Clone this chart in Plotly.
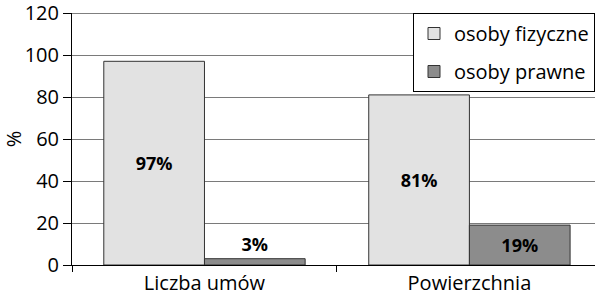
import plotly.graph_objects as go

categories = ["Liczba umów", "Powierzchnia"]
series_names = ["osoby fizyczne", "osoby prawne"]
fizyczne = [97, 81]
prawne = [3, 19]
y_ticks = [0, 20, 40, 60, 80, 100, 120]

FONT = "Open Sans"

fig = go.Figure()
fig.add_trace(go.Bar(
    x=categories, y=fizyczne, name=series_names[0],
    marker=dict(color="#e2e2e2", line=dict(color="#333333", width=1)),
    text=[f"{v}%" for v in fizyczne], textposition="inside",
    insidetextanchor="middle",
    textfont=dict(family=FONT, size=18, color="black", weight="bold"),
    legendgroup="a",
))
fig.add_trace(go.Bar(
    x=categories, y=prawne, name=series_names[1],
    marker=dict(color="#8c8c8c", line=dict(color="#333333", width=1)),
    text=[f"{v}%" for v in prawne], textposition=["outside", "inside"],
    insidetextanchor="middle", cliponaxis=False,
    textfont=dict(family=FONT, size=18, color="black", weight="bold"),
    legendgroup="b",
))

fig.update_layout(
    width=595, height=297,
    margin=dict(l=72, r=0, t=13, b=32),
    paper_bgcolor="white", plot_bgcolor="white",
    barmode="group", bargap=0.24, bargroupgap=0,
    font=dict(family=FONT, size=20, color="black"),
    showlegend=True,
    legend=dict(x=1, xanchor="right", y=1, yanchor="top",
                bgcolor="white", bordercolor="black", borderwidth=1,
                font=dict(family=FONT, size=20), tracegroupgap=9,
                itemwidth=30),
)
fig.update_xaxes(
    range=[-0.5, 1.474], showline=True, linecolor="black", linewidth=1,
    ticks="outside", tickson="boundaries", ticklen=6, tickcolor="black",
    showgrid=False, tickfont=dict(size=20),
)
fig.update_yaxes(
    range=[0, 120], tickvals=y_ticks, showline=True, linecolor="black",
    linewidth=1, ticks="outside", ticklen=8, tickcolor="black",
    showgrid=True, gridcolor="#7a7a7a", gridwidth=1, zeroline=False,
    title=dict(text="%", font=dict(size=20), standoff=8),
    tickfont=dict(size=20), ticklabeloverflow="allow",
)
fig.add_shape(type="line", xref="paper", yref="y", x0=0, x1=1, y0=120, y1=120,
              line=dict(color="black", width=1))

fig.write_html("out.html", config={"displayModeBar": False},
               post_script="document.body.style.margin='0';")
